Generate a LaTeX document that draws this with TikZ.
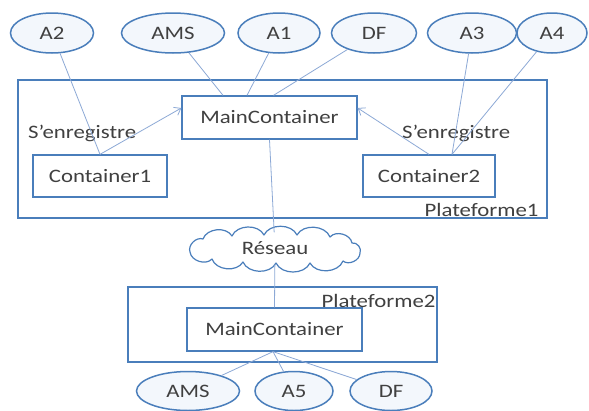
\documentclass[tikz,border=0pt]{standalone}
\usepackage{fontspec}
\setmainfont[FakeStretch=1.2]{Carlito}
\usetikzlibrary{shapes.geometric,arrows.meta}
\definecolor{txt}{HTML}{404040}
\definecolor{edge}{HTML}{4A7EBB}
\definecolor{efill}{HTML}{F3F7FC}
\definecolor{lnk}{HTML}{8DA9D6}
\tikzset{
  agent/.style={ellipse,draw=edge,line width=1.5pt,fill=efill,inner sep=0pt,text=txt,font=\fontsize{19}{22}\selectfont},
  box/.style={rectangle,draw=edge,line width=1.3pt,fill=white,inner sep=0pt,text=txt,font=\fontsize{19}{22}\selectfont},
  plat/.style={rectangle,draw=edge,line width=1.3pt,fill=white,inner sep=0pt},
  lbl/.style={inner sep=0pt,text=txt,font=\fontsize{19}{22}\selectfont},
  link/.style={draw=lnk,line width=0.8pt},
  reg/.style={link,-{Straight Barb[length=6pt,width=9pt]}},
  puff/.style={bend left=65},
  cloudline/.style={draw=edge,line width=1.2pt,fill=white,line join=round}
}
\begin{document}
\begin{tikzpicture}[x=1pt,y=-1pt]
\useasboundingbox[fill=white] (0,0) rectangle (589,410);
% platforms
\node[plat,minimum width=529pt,minimum height=138pt] (p1) at (282.5,149) {};
\node[plat,minimum width=309pt,minimum height=75pt] (p2) at (282.5,324.5) {};
% containers
\node[box,minimum width=175pt,minimum height=43pt] (mc) at (269.5,117.5) {MainContainer};
\node[box,minimum width=134pt,minimum height=42pt] (c1) at (100,176) {Container1};
\node[box,minimum width=132pt,minimum height=42pt] (c2) at (429,176) {Container2};
\node[box,minimum width=175pt,minimum height=43pt] (mc2) at (274.5,329.5) {MainContainer};
% labels
\node[lbl,anchor=base west] (s1) at (28,138) {S’enregistre};
\node[lbl,anchor=base west] (s2) at (402,138) {S’enregistre};
\node[lbl,anchor=base east] (l1) at ([xshift=-9pt,yshift=2pt]p1.south east) {Plateforme1};
\node[lbl,anchor=base east] (l2) at ([xshift=-2pt,yshift=-21pt]p2.north east) {Plateforme2};
% cloud
\path[cloudline] (190,252) to[puff] (203,239) to[puff] (232,236) to[puff] (264,235)
  to[puff] (297,235) to[puff] (330,237) to[puff] (352,243) to[puff] (360,253)
  to[puff] (343,261) to[puff] (310,263) to[puff] (276,263) to[puff] (243,262)
  to[puff] (212,259) to[puff] cycle;
\node[lbl,minimum width=168pt,minimum height=32pt] (net) at (275,248.5) {Réseau};
% agents top
\node[agent,minimum width=83pt,minimum height=40pt] (a2) at (52,33) {A2};
\node[agent,minimum width=103pt,minimum height=40pt] (ams) at (173,33) {AMS};
\node[agent,minimum width=82pt,minimum height=40pt] (a1) at (279,33) {A1};
\node[agent,minimum width=85pt,minimum height=40pt] (df) at (374,33) {DF};
\node[agent,minimum width=89pt,minimum height=40pt] (a3) at (472,33) {A3};
\node[agent,minimum width=70pt,minimum height=40pt] (a4) at (552,33) {A4};
% agents bottom
\node[agent,minimum width=103pt,minimum height=39pt] (amsb) at (188,391) {AMS};
\node[agent,minimum width=78pt,minimum height=39pt] (a5) at (294,391) {A5};
\node[agent,minimum width=82pt,minimum height=39pt] (dfb) at (391,391) {DF};
% connectors
\draw[link] (a2) -- (c1.north);
\draw[link] (ams) -- ([xshift=-46.5pt]mc.north);
\draw[link] (a1) -- ([xshift=-22.5pt]mc.north);
\draw[link] (df) -- ([xshift=4pt]mc.north);
\draw[link] (a3) -- ([xshift=23pt]c2.north);
\draw[link] (a4) -- ([xshift=23pt]c2.north);
\draw[reg] (c1.north) -- ([yshift=9.5pt]mc.west);
\draw[reg] (c2.north) -- ([yshift=9.5pt]mc.east);
\draw[link] (mc.south) -- (net);
\draw[link] (net) -- (mc2.north);
\draw[link] ([xshift=-1.5pt]mc2.south) -- (amsb);
\draw[link] ([xshift=-1.5pt]mc2.south) -- (a5);
\draw[link] ([xshift=-1.5pt]mc2.south) -- (dfb);
\end{tikzpicture}
\end{document}
